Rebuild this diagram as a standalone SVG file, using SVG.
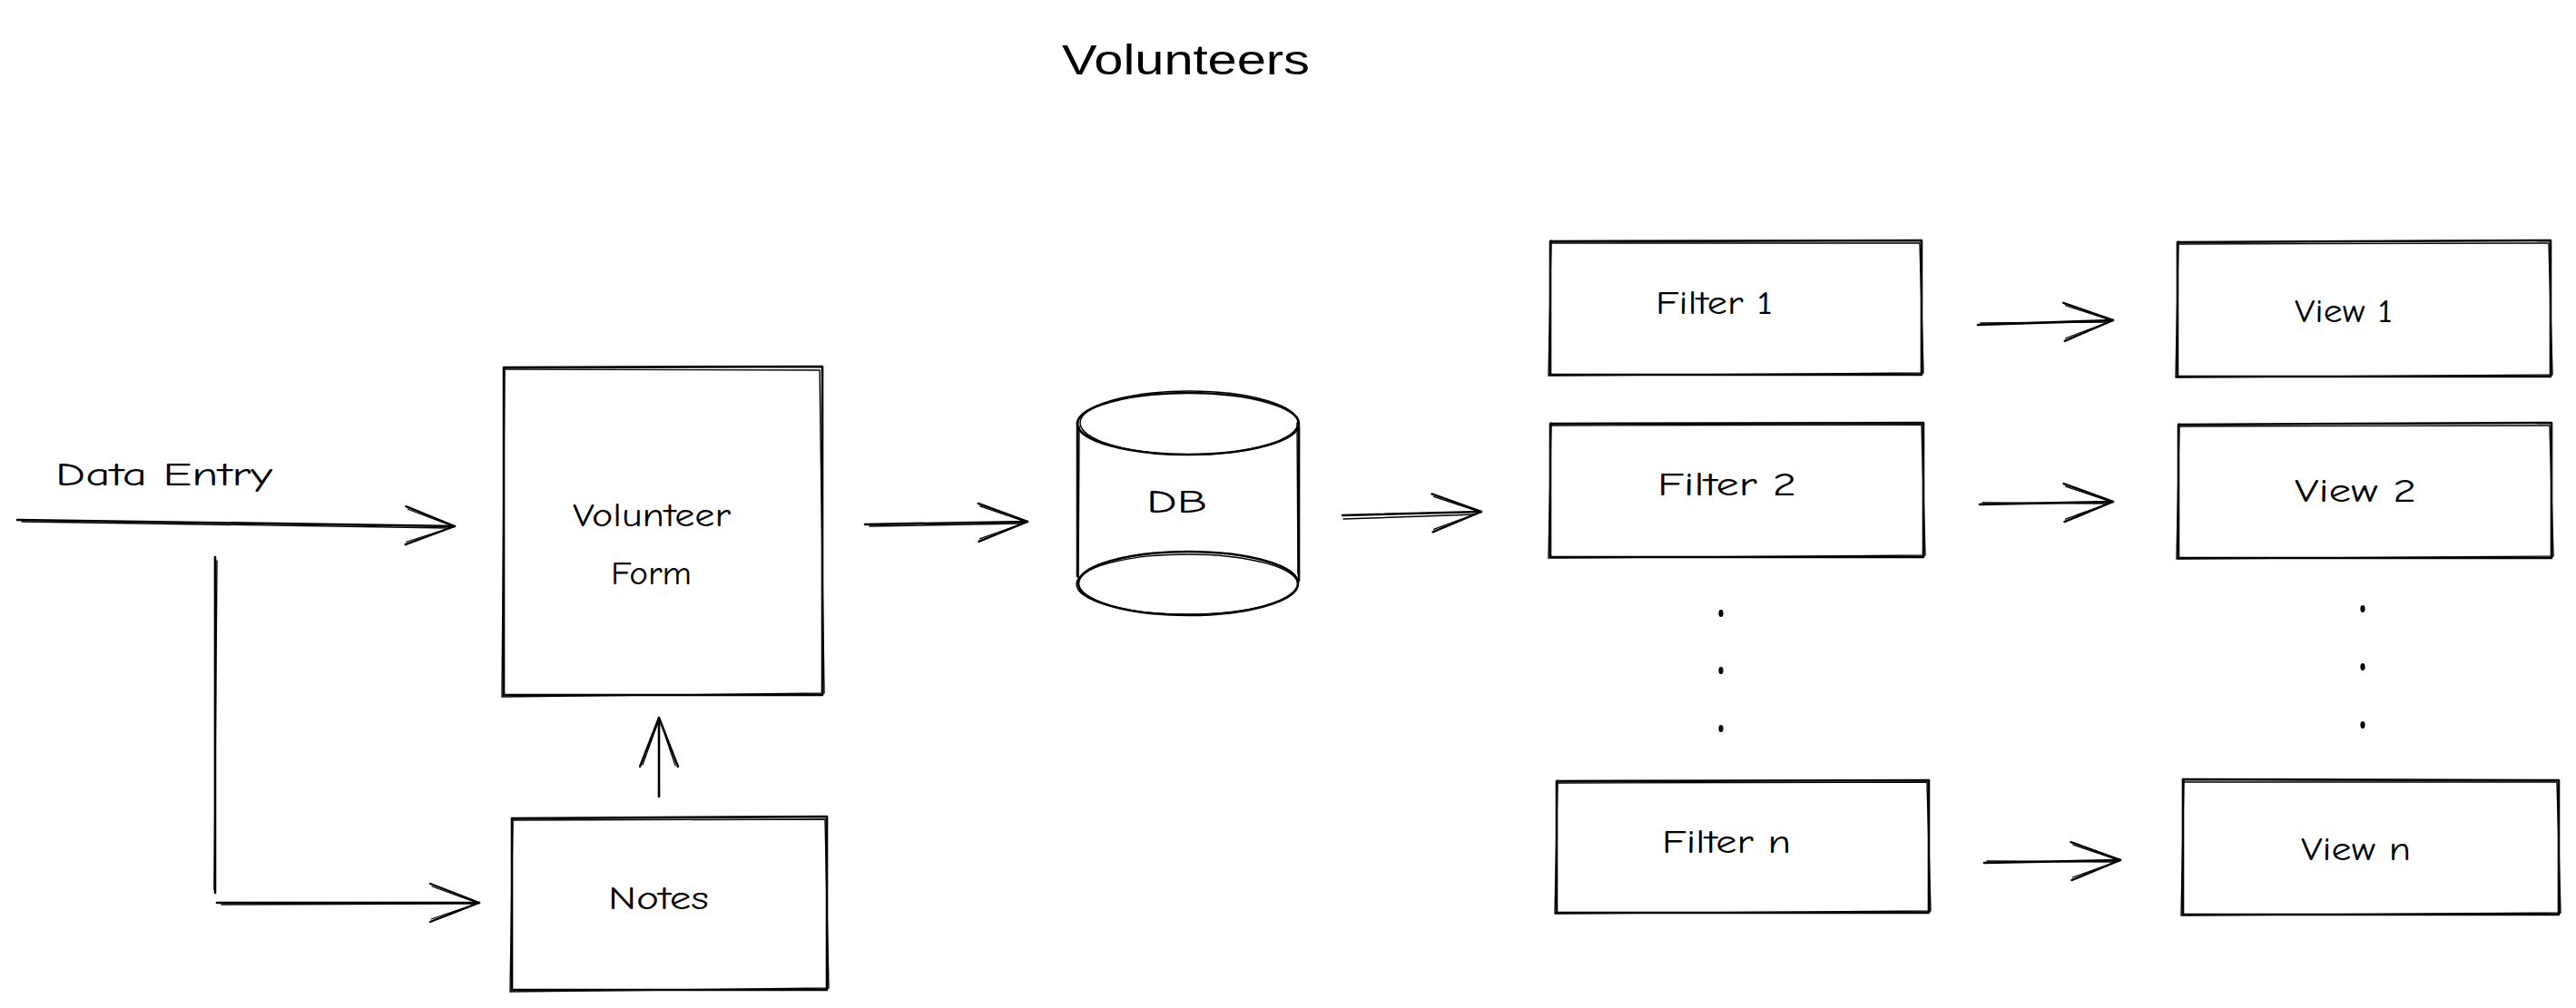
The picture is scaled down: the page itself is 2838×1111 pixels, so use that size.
<svg xmlns="http://www.w3.org/2000/svg" width="2838" height="1111" viewBox="0 0 2838 1111">
<style>
.bg{fill:#ffffff}
.s{fill:none;stroke:#000;stroke-width:2.6;stroke-linecap:round;stroke-linejoin:round}
.s2{fill:none;stroke:#000;stroke-width:1.4;stroke-linecap:round;stroke-linejoin:round}
.t{font-family:"Comic Neue","Liberation Sans","DejaVu Sans",sans-serif;font-size:37px;fill:#000}
.title{font-family:"Liberation Sans","DejaVu Sans",sans-serif;font-size:46px;fill:#000}
.dot{fill:#000}
</style>
<defs>
<marker id="arrow" viewBox="0 0 60 48" refX="57" refY="24" markerWidth="60" markerHeight="48" markerUnits="userSpaceOnUse" orient="auto">
<path d="M3,3 L57,24 L3,45" fill="none" stroke="#000" stroke-width="2.4" stroke-linecap="round" stroke-linejoin="round"/>
<path d="M5,6 L56,24.5 L4,42" fill="none" stroke="#000" stroke-width="1.2" stroke-linecap="round"/>
</marker>
</defs>
<rect class="bg" x="0" y="0" width="2838" height="1111"/>

<text class="title" x="1170" y="82" textLength="273" lengthAdjust="spacingAndGlyphs">Volunteers</text>

<g id="connectors">
<path class="s" d="M19,573 L501,580" marker-end="url(#arrow)"/>
<path class="s2" d="M24,575 L495,582"/>
<path class="s" d="M237,614 L237,984"/>
<path class="s2" d="M239,618 L236,980"/>
<path class="s" d="M239,995 L528,995" marker-end="url(#arrow)"/>
<path class="s2" d="M244,997 L522,996"/>
<path class="s" d="M726,878 L726,791" marker-end="url(#arrow)"/>
<path class="s" d="M953,578 L1132,575" marker-end="url(#arrow)"/>
<path class="s2" d="M958,580 L1126,577"/>
<path class="s" d="M1479,568 L1632,564" marker-end="url(#arrow)"/>
<path class="s2" d="M1480,572 L1626,567"/>
<path class="s" d="M2179,358 L2328,353" marker-end="url(#arrow)"/>
<path class="s2" d="M2182,356 L2322,355"/>
<path class="s" d="M2181,556 L2328,553" marker-end="url(#arrow)"/>
<path class="s2" d="M2184,554 L2322,555"/>
<path class="s" d="M2186,951 L2336,948" marker-end="url(#arrow)"/>
<path class="s2" d="M2189,949 L2330,950"/>
</g>

<g id="data-entry-label">
<text class="t" x="61" y="535" textLength="239" lengthAdjust="spacingAndGlyphs">Data Entry</text>
</g>

<g id="volunteer-form">
<path class="s" d="M555,405 L906,404 L906,766 L555,766 Z"/>
<path class="s2" d="M557,407 L903,408 L908,764 L553,768 L556,405"/>
<text class="t" x="631" y="580" textLength="174" lengthAdjust="spacingAndGlyphs">Volunteer</text>
<text class="t" x="673" y="644" textLength="89" lengthAdjust="spacingAndGlyphs">Form</text>
</g>

<g id="notes">
<path class="s" d="M564,902 L911,900 L911,1091 L564,1091 Z"/>
<path class="s2" d="M566,904 L909,903 L913,1089 L562,1093 L565,902"/>
<text class="t" x="670" y="1002" textLength="111" lengthAdjust="spacingAndGlyphs">Notes</text>
</g>

<g id="db">
<ellipse class="s" cx="1309" cy="467" rx="122" ry="34"/>
<ellipse class="s2" cx="1310" cy="466" rx="120" ry="35"/>
<ellipse class="s" cx="1309" cy="643" rx="121" ry="35"/>
<ellipse class="s2" cx="1308" cy="644" rx="122" ry="33"/>
<path class="s" d="M1187,465 L1187,635"/>
<path class="s2" d="M1189,470 L1188,640"/>
<path class="s" d="M1431,470 L1431,640"/>
<path class="s2" d="M1429,466 L1430,632"/>
<text class="t" x="1263" y="565" textLength="67" lengthAdjust="spacingAndGlyphs">DB</text>
</g>

<g id="filter-1">
<path class="s" d="M1708,266 L2117,265 L2117,413 L1708,413 Z"/>
<path class="s2" d="M1710,268 L2115,268 L2119,411 L1706,414 L1709,265"/>
<text class="t" x="1824" y="346" textLength="129" lengthAdjust="spacingAndGlyphs">Filter 1</text>
</g>

<g id="filter-2">
<path class="s" d="M1708,467 L2119,466 L2119,614 L1708,614 Z"/>
<path class="s2" d="M1710,469 L2117,468 L2121,612 L1706,615 L1709,466"/>
<text class="t" x="1826" y="546" textLength="153" lengthAdjust="spacingAndGlyphs">Filter 2</text>
</g>

<g id="filter-n">
<path class="s" d="M1715,861 L2125,860 L2125,1006 L1715,1006 Z"/>
<path class="s2" d="M1717,863 L2123,862 L2127,1004 L1713,1007 L1716,860"/>
<text class="t" x="1831" y="940" textLength="142" lengthAdjust="spacingAndGlyphs">Filter n</text>
</g>

<g id="view-1">
<path class="s" d="M2399,267 L2810,265 L2810,415 L2399,415 Z"/>
<path class="s2" d="M2401,269 L2808,268 L2812,413 L2397,416 L2400,266"/>
<text class="t" x="2528" y="355" textLength="108" lengthAdjust="spacingAndGlyphs">View 1</text>
</g>

<g id="view-2">
<path class="s" d="M2400,468 L2811,466 L2811,615 L2400,615 Z"/>
<path class="s2" d="M2402,470 L2809,469 L2813,613 L2398,616 L2401,467"/>
<text class="t" x="2528" y="553" textLength="134" lengthAdjust="spacingAndGlyphs">View 2</text>
</g>

<g id="view-n">
<path class="s" d="M2405,859 L2819,860 L2819,1008 L2405,1008 Z"/>
<path class="s2" d="M2407,862 L2817,862 L2821,1006 L2403,1009 L2406,859"/>
<text class="t" x="2535" y="948" textLength="121" lengthAdjust="spacingAndGlyphs">View n</text>
</g>

<g id="filter-dots">
<ellipse class="dot" cx="1896" cy="676" rx="2.6" ry="4"/>
<ellipse class="dot" cx="1896" cy="739" rx="2.6" ry="4"/>
<ellipse class="dot" cx="1896" cy="803" rx="2.6" ry="4"/>
</g>
<g id="view-dots">
<ellipse class="dot" cx="2603" cy="671" rx="2.6" ry="4"/>
<ellipse class="dot" cx="2603" cy="735" rx="2.6" ry="4"/>
<ellipse class="dot" cx="2603" cy="799" rx="2.6" ry="4"/>
</g>
</svg>
